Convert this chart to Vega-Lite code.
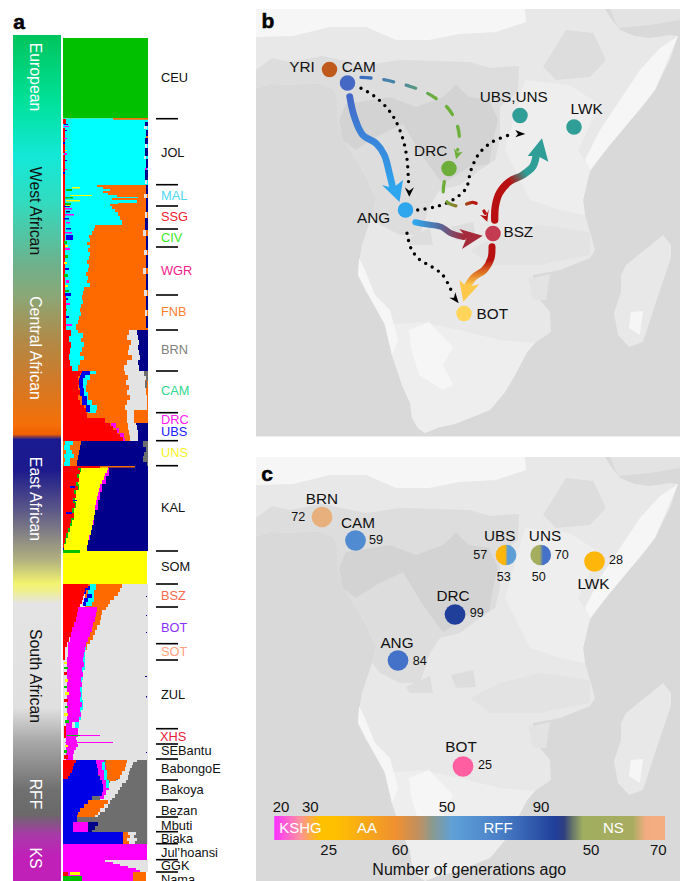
{"$schema":"https://vega.github.io/schema/vega-lite/v6.json","width":680,"height":881,"padding":0,"autosize":"none","background":"white","config":{"view":{"stroke":null},"font":"Liberation Sans","text":{"font":"Liberation Sans"}},
"datasets":{
"panels":[{"x":256,"x2":680,"y":9,"y2":436.5},{"x":256,"x2":680,"y":457,"y2":881}],
"map":[
{"g":"land","t":"land","x":256,"y":88},{"g":"land","t":"land","x":270,"y":84},{"g":"land","t":"land","x":295,"y":85},{"g":"land","t":"land","x":306,"y":83},{"g":"land","t":"land","x":320,"y":84},{"g":"land","t":"land","x":333,"y":89},{"g":"land","t":"land","x":338,"y":100},{"g":"land","t":"land","x":337,"y":115},{"g":"land","t":"land","x":340,"y":128},{"g":"land","t":"land","x":346,"y":143},{"g":"land","t":"land","x":355,"y":158},{"g":"land","t":"land","x":367,"y":178},{"g":"land","t":"land","x":376,"y":200},{"g":"land","t":"land","x":372,"y":215},{"g":"land","t":"land","x":362,"y":245},{"g":"land","t":"land","x":359,"y":262},{"g":"land","t":"land","x":358,"y":275},{"g":"land","t":"land","x":366,"y":292},{"g":"land","t":"land","x":378,"y":306},{"g":"land","t":"land","x":385,"y":325},{"g":"land","t":"land","x":392,"y":355},{"g":"land","t":"land","x":402,"y":385},{"g":"land","t":"land","x":410,"y":403},{"g":"land","t":"land","x":412,"y":418},{"g":"land","t":"land","x":418,"y":428},{"g":"land","t":"land","x":425,"y":433},{"g":"land","t":"land","x":440,"y":427},{"g":"land","t":"land","x":455,"y":424},{"g":"land","t":"land","x":470,"y":418},{"g":"land","t":"land","x":490,"y":410},{"g":"land","t":"land","x":505,"y":392},{"g":"land","t":"land","x":515,"y":375},{"g":"land","t":"land","x":527,"y":352},{"g":"land","t":"land","x":535,"y":343},{"g":"land","t":"land","x":551,"y":332},{"g":"land","t":"land","x":550,"y":312},{"g":"land","t":"land","x":540,"y":300},{"g":"land","t":"land","x":533,"y":288},{"g":"land","t":"land","x":533,"y":275},{"g":"land","t":"land","x":560,"y":270},{"g":"land","t":"land","x":590,"y":258},{"g":"land","t":"land","x":595,"y":250},{"g":"land","t":"land","x":590,"y":232},{"g":"land","t":"land","x":585,"y":215},{"g":"land","t":"land","x":583,"y":200},{"g":"land","t":"land","x":590,"y":172},{"g":"land","t":"land","x":605,"y":150},{"g":"land","t":"land","x":620,"y":130},{"g":"land","t":"land","x":640,"y":110},{"g":"land","t":"land","x":655,"y":90},{"g":"land","t":"land","x":670,"y":60},{"g":"land","t":"land","x":678,"y":36},{"g":"land","t":"land","x":670,"y":35},{"g":"land","t":"land","x":650,"y":38},{"g":"land","t":"land","x":635,"y":36},{"g":"land","t":"land","x":620,"y":30},{"g":"land","t":"land","x":612,"y":20},{"g":"land","t":"land","x":605,"y":9},{"g":"land","t":"land","x":256,"y":9},
{"g":"sahara","t":"white","x":256,"y":9},{"g":"sahara","t":"white","x":525,"y":9},{"g":"sahara","t":"white","x":526,"y":22},{"g":"sahara","t":"white","x":496,"y":32},{"g":"sahara","t":"white","x":459,"y":34},{"g":"sahara","t":"white","x":429,"y":40},{"g":"sahara","t":"white","x":396,"y":40},{"g":"sahara","t":"white","x":366,"y":27},{"g":"sahara","t":"white","x":330,"y":27},{"g":"sahara","t":"white","x":293,"y":36},{"g":"sahara","t":"white","x":256,"y":37},
{"g":"arabia","t":"mid2","x":610,"y":9},{"g":"arabia","t":"mid2","x":680,"y":9},{"g":"arabia","t":"mid2","x":680,"y":20},{"g":"arabia","t":"mid2","x":650,"y":25},{"g":"arabia","t":"mid2","x":618,"y":28},
{"g":"eastland","t":"south","x":525,"y":80},{"g":"eastland","t":"south","x":570,"y":85},{"g":"eastland","t":"south","x":600,"y":105},{"g":"eastland","t":"south","x":590,"y":125},{"g":"eastland","t":"south","x":578,"y":150},{"g":"eastland","t":"south","x":590,"y":170},{"g":"eastland","t":"south","x":583,"y":200},{"g":"eastland","t":"south","x":585,"y":215},{"g":"eastland","t":"south","x":560,"y":210},{"g":"eastland","t":"south","x":530,"y":200},{"g":"eastland","t":"south","x":515,"y":170},{"g":"eastland","t":"south","x":505,"y":150},
{"g":"forest","t":"mid","x":256,"y":70},{"g":"forest","t":"mid","x":272,"y":58},{"g":"forest","t":"mid","x":290,"y":62},{"g":"forest","t":"mid","x":322,"y":56},{"g":"forest","t":"mid","x":366,"y":65},{"g":"forest","t":"mid","x":400,"y":60},{"g":"forest","t":"mid","x":470,"y":62},{"g":"forest","t":"mid","x":490,"y":68},{"g":"forest","t":"mid","x":519,"y":66},{"g":"forest","t":"mid","x":518,"y":92},{"g":"forest","t":"mid","x":500,"y":107},{"g":"forest","t":"mid","x":500,"y":140},{"g":"forest","t":"mid","x":495,"y":160},{"g":"forest","t":"mid","x":480,"y":170},{"g":"forest","t":"mid","x":460,"y":185},{"g":"forest","t":"mid","x":440,"y":190},{"g":"forest","t":"mid","x":430,"y":205},{"g":"forest","t":"mid","x":420,"y":235},{"g":"forest","t":"mid","x":400,"y":235},{"g":"forest","t":"mid","x":380,"y":225},{"g":"forest","t":"mid","x":372,"y":215},{"g":"forest","t":"mid","x":376,"y":200},{"g":"forest","t":"mid","x":367,"y":178},{"g":"forest","t":"mid","x":355,"y":158},{"g":"forest","t":"mid","x":346,"y":143},{"g":"forest","t":"mid","x":340,"y":128},{"g":"forest","t":"mid","x":337,"y":115},{"g":"forest","t":"mid","x":338,"y":100},{"g":"forest","t":"mid","x":333,"y":89},{"g":"forest","t":"mid","x":320,"y":84},{"g":"forest","t":"mid","x":306,"y":83},{"g":"forest","t":"mid","x":295,"y":85},{"g":"forest","t":"mid","x":270,"y":84},{"g":"forest","t":"mid","x":256,"y":88},
{"g":"basin","t":"dark","x":339,"y":120},{"g":"basin","t":"dark","x":346,"y":104},{"g":"basin","t":"dark","x":390,"y":97},{"g":"basin","t":"dark","x":416,"y":107},{"g":"basin","t":"dark","x":443,"y":97},{"g":"basin","t":"dark","x":456,"y":85},{"g":"basin","t":"dark","x":469,"y":97},{"g":"basin","t":"dark","x":489,"y":100},{"g":"basin","t":"dark","x":498,"y":120},{"g":"basin","t":"dark","x":493,"y":140},{"g":"basin","t":"dark","x":489,"y":164},{"g":"basin","t":"dark","x":469,"y":167},{"g":"basin","t":"dark","x":443,"y":184},{"g":"basin","t":"dark","x":423,"y":157},{"g":"basin","t":"dark","x":403,"y":124},{"g":"basin","t":"dark","x":376,"y":137},{"g":"basin","t":"dark","x":356,"y":150},{"g":"basin","t":"dark","x":343,"y":140},
{"g":"somali","t":"white","x":678,"y":36},{"g":"somali","t":"white","x":655,"y":90},{"g":"somali","t":"white","x":635,"y":115},{"g":"somali","t":"white","x":610,"y":145},{"g":"somali","t":"white","x":590,"y":170},{"g":"somali","t":"white","x":585,"y":160},{"g":"somali","t":"white","x":600,"y":130},{"g":"somali","t":"white","x":620,"y":100},{"g":"somali","t":"white","x":640,"y":70},{"g":"somali","t":"white","x":660,"y":48},
{"g":"ethiopia","t":"mid","x":543,"y":67},{"g":"ethiopia","t":"mid","x":566,"y":30},{"g":"ethiopia","t":"mid","x":593,"y":33},{"g":"ethiopia","t":"mid","x":606,"y":60},{"g":"ethiopia","t":"mid","x":590,"y":77},{"g":"ethiopia","t":"mid","x":556,"y":80},
{"g":"southland","t":"south","x":385,"y":325},{"g":"southland","t":"south","x":392,"y":355},{"g":"southland","t":"south","x":402,"y":385},{"g":"southland","t":"south","x":410,"y":403},{"g":"southland","t":"south","x":412,"y":418},{"g":"southland","t":"south","x":418,"y":428},{"g":"southland","t":"south","x":425,"y":433},{"g":"southland","t":"south","x":440,"y":427},{"g":"southland","t":"south","x":455,"y":424},{"g":"southland","t":"south","x":470,"y":418},{"g":"southland","t":"south","x":490,"y":410},{"g":"southland","t":"south","x":505,"y":392},{"g":"southland","t":"south","x":515,"y":375},{"g":"southland","t":"south","x":527,"y":352},{"g":"southland","t":"south","x":535,"y":343},{"g":"southland","t":"south","x":500,"y":340},{"g":"southland","t":"south","x":460,"y":330},{"g":"southland","t":"south","x":420,"y":322},
{"g":"kalahari","t":"white","x":409,"y":330},{"g":"kalahari","t":"white","x":429,"y":322},{"g":"kalahari","t":"white","x":453,"y":347},{"g":"kalahari","t":"white","x":443,"y":365},{"g":"kalahari","t":"white","x":453,"y":385},{"g":"kalahari","t":"white","x":443,"y":390},{"g":"kalahari","t":"white","x":419,"y":375},{"g":"kalahari","t":"white","x":411,"y":348},
{"g":"namib","t":"white","x":359,"y":258},{"g":"namib","t":"white","x":358,"y":275},{"g":"namib","t":"white","x":370,"y":298},{"g":"namib","t":"white","x":385,"y":325},{"g":"namib","t":"white","x":392,"y":355},{"g":"namib","t":"white","x":398,"y":340},{"g":"namib","t":"white","x":390,"y":310},{"g":"namib","t":"white","x":375,"y":295},{"g":"namib","t":"white","x":365,"y":270},
{"g":"madag","t":"land","x":621,"y":275},{"g":"madag","t":"land","x":626,"y":265},{"g":"madag","t":"land","x":663,"y":235},{"g":"madag","t":"land","x":671,"y":245},{"g":"madag","t":"land","x":671,"y":258},{"g":"madag","t":"land","x":656,"y":302},{"g":"madag","t":"land","x":643,"y":342},{"g":"madag","t":"land","x":629,"y":347},{"g":"madag","t":"land","x":618,"y":335},{"g":"madag","t":"land","x":614,"y":313},{"g":"madag","t":"land","x":621,"y":292},
{"g":"madag2","t":"white","x":631,"y":312},{"g":"madag2","t":"white","x":643,"y":311},{"g":"madag2","t":"white","x":640,"y":335},{"g":"madag2","t":"white","x":629,"y":328},
{"g":"p1","t":"mid","x":451,"y":227},{"g":"p1","t":"mid","x":473,"y":222},{"g":"p1","t":"mid","x":476,"y":239},{"g":"p1","t":"mid","x":456,"y":240},
{"g":"p2","t":"mid","x":406,"y":239},{"g":"p2","t":"mid","x":430,"y":228},{"g":"p2","t":"mid","x":433,"y":245},{"g":"p2","t":"mid","x":410,"y":245},
{"g":"p3","t":"mid2","x":528,"y":279},{"g":"p3","t":"mid2","x":550,"y":274},{"g":"p3","t":"mid2","x":546,"y":300},{"g":"p3","t":"mid2","x":533,"y":300},
{"g":"p4","t":"mid2","x":470,"y":250},{"g":"p4","t":"mid2","x":500,"y":235},{"g":"p4","t":"mid2","x":540,"y":225},{"g":"p4","t":"mid2","x":590,"y":232},{"g":"p4","t":"mid2","x":590,"y":255},{"g":"p4","t":"mid2","x":540,"y":265},{"g":"p4","t":"mid2","x":490,"y":265}
],
"bars":[
{"c":"green","x":63,"x2":148,"y":38,"y2":118.5},{"c":"cyan","x":63,"x2":148,"y":118.5,"y2":185},{"c":"orange","x":63,"x2":148,"y":185,"y2":441},{"c":"navy","x":63,"x2":148,"y":441,"y2":551},{"c":"yellow","x":63,"x2":147,"y":551,"y2":584},{"c":"lgray","x":63,"x2":148,"y":584,"y2":760},{"c":"dgray","x":63,"x2":148,"y":760,"y2":844},{"c":"magenta","x":63,"x2":147,"y":844,"y2":860},{"c":"lgray","x":63,"x2":148,"y":860,"y2":872},{"c":"magenta","x":63,"x2":133,"y":872,"y2":881},
{"c":"orange","x":113,"x2":148,"y":118,"y2":119.5},{"c":"orange","x":100,"x2":135,"y":466,"y2":467.5},{"c":"red","x":63,"x2":100,"y":466,"y2":468},{"c":"orange","x":133,"x2":146,"y":872,"y2":881},{"c":"red","x":63,"x2":68,"y":872,"y2":881},{"c":"green","x":63,"x2":82,"y":876,"y2":881},{"c":"yellow","x":70,"x2":80,"y":872,"y2":875},{"c":"green","x":63,"x2":80,"y":550,"y2":553},{"c":"blue","x":63,"x2":77,"y":817,"y2":822},{"c":"blue","x":63,"x2":73,"y":822,"y2":832},{"c":"magenta","x":73,"x2":88,"y":822,"y2":832},{"c":"blue","x":63,"x2":123,"y":832,"y2":844},{"c":"magenta","x":65,"x2":100,"y":735,"y2":736},{"c":"green","x":67,"x2":80,"y":735,"y2":736},{"c":"magenta","x":65,"x2":113,"y":742,"y2":743},{"c":"lgray","x":147,"x2":148,"y":584,"y2":844},
{"c":"yellow","x":72,"x2":80,"y":187,"y2":188.5},{"c":"green","x":66,"x2":72,"y":189,"y2":191},{"c":"yellow","x":70,"x2":92,"y":195,"y2":196},{"c":"green","x":65,"x2":73,"y":197,"y2":198.5},{"c":"yellow","x":66,"x2":80,"y":200,"y2":201.5},{"c":"green","x":65,"x2":71,"y":203,"y2":205},{"c":"yellow","x":66,"x2":70,"y":205,"y2":206},
{"c":"red","x":63,"x2":66,"y":119,"y2":124},{"c":"blue","x":64,"x2":68,"y":124,"y2":125},{"c":"magenta","x":64,"x2":69,"y":126,"y2":127},{"c":"red","x":63,"x2":65,"y":128,"y2":134},{"c":"blue","x":65,"x2":67,"y":130,"y2":131},{"c":"red","x":63,"x2":65,"y":134,"y2":142},{"c":"magenta","x":64,"x2":67,"y":138,"y2":139},{"c":"blue","x":63,"x2":65,"y":142,"y2":144},{"c":"red","x":63,"x2":65,"y":144,"y2":153},{"c":"yellow","x":65,"x2":67,"y":150,"y2":151},{"c":"magenta","x":64,"x2":67,"y":153,"y2":155},{"c":"red","x":63,"x2":65,"y":155,"y2":164},{"c":"blue","x":65,"x2":67,"y":160,"y2":161},{"c":"red","x":63,"x2":65,"y":164,"y2":172},{"c":"magenta","x":65,"x2":67,"y":169,"y2":170},{"c":"blue","x":63,"x2":65,"y":172,"y2":174},{"c":"red","x":63,"x2":65,"y":174,"y2":200},{"c":"red","x":63,"x2":65,"y":200,"y2":296},{"c":"blue","x":64,"x2":70,"y":206,"y2":207},{"c":"magenta","x":65,"x2":72,"y":208,"y2":209.5},{"c":"navy","x":66,"x2":70,"y":211,"y2":212.5},{"c":"magenta","x":65,"x2":74,"y":214,"y2":215.5},{"c":"blue","x":64,"x2":69,"y":218,"y2":219.5},{"c":"magenta","x":66,"x2":70,"y":222,"y2":223.5},{"c":"blue","x":66,"x2":71,"y":228,"y2":229.5},{"c":"magenta","x":65,"x2":72,"y":232,"y2":233.5},{"c":"blue","x":66,"x2":73,"y":235,"y2":240},{"c":"green","x":64,"x2":67,"y":241,"y2":244},{"c":"yellow","x":65,"x2":68,"y":245,"y2":247},{"c":"magenta","x":65,"x2":70,"y":248,"y2":250},{"c":"green","x":65,"x2":68,"y":255,"y2":258},{"c":"yellow","x":64,"x2":67,"y":262,"y2":264},{"c":"blue","x":65,"x2":69,"y":268,"y2":270},{"c":"green","x":64,"x2":68,"y":274,"y2":277},{"c":"magenta","x":66,"x2":69,"y":280,"y2":283},{"c":"yellow","x":65,"x2":68,"y":285,"y2":287},{"c":"green","x":65,"x2":69,"y":290,"y2":292},{"c":"blue","x":65,"x2":71,"y":293,"y2":296},{"c":"blue","x":65,"x2":68,"y":298,"y2":300},{"c":"magenta","x":65,"x2":70,"y":303,"y2":305},{"c":"green","x":64,"x2":67,"y":309,"y2":311},{"c":"red","x":63,"x2":66,"y":296,"y2":330},{"c":"blue","x":66,"x2":69,"y":316,"y2":318},{"c":"magenta","x":66,"x2":72,"y":324,"y2":326},
{"c":"navy","x":145,"x2":148,"y":122,"y2":126},{"c":"lgray","x":144,"x2":147,"y":126,"y2":129},{"c":"navy","x":146,"x2":148,"y":130,"y2":136},{"c":"orange","x":146,"x2":148,"y":136,"y2":138},{"c":"navy","x":145,"x2":148,"y":138,"y2":144},{"c":"lgray","x":145,"x2":147,"y":144,"y2":148},{"c":"navy","x":145,"x2":148,"y":148,"y2":156},{"c":"lgray","x":144,"x2":146,"y":156,"y2":159},{"c":"navy","x":146,"x2":148,"y":159,"y2":168},{"c":"magenta","x":145,"x2":147,"y":168,"y2":170},{"c":"navy","x":145,"x2":148,"y":170,"y2":180},{"c":"lgray","x":145,"x2":147,"y":180,"y2":184},{"c":"navy","x":146,"x2":148,"y":185,"y2":194},{"c":"lgray","x":144,"x2":147,"y":194,"y2":198},{"c":"navy","x":146,"x2":148,"y":198,"y2":212},{"c":"lgray","x":145,"x2":147,"y":212,"y2":218},{"c":"navy","x":145,"x2":148,"y":218,"y2":230},{"c":"lgray","x":143,"x2":146,"y":230,"y2":236},{"c":"navy","x":146,"x2":148,"y":236,"y2":250},{"c":"lgray","x":144,"x2":147,"y":250,"y2":255},{"c":"navy","x":146,"x2":148,"y":255,"y2":268},{"c":"lgray","x":143,"x2":146,"y":268,"y2":274},{"c":"navy","x":146,"x2":148,"y":274,"y2":290},{"c":"lgray","x":144,"x2":147,"y":290,"y2":296},{"c":"navy","x":146,"x2":148,"y":296,"y2":310},{"c":"lgray","x":145,"x2":147,"y":310,"y2":316},{"c":"navy","x":146,"x2":148,"y":316,"y2":328},
{"c":"navy","x":146,"x2":147,"y":596,"y2":597},{"c":"navy","x":146,"x2":147,"y":615,"y2":616},{"c":"navy","x":146,"x2":147,"y":632,"y2":633},{"c":"navy","x":146,"x2":147,"y":696,"y2":697.5},{"c":"navy","x":146,"x2":147,"y":752,"y2":753},{"c":"navy","x":145,"x2":147,"y":676,"y2":677},
{"c":"yellow","x":64,"x2":67,"y":662,"y2":664},{"c":"green","x":64,"x2":68,"y":667,"y2":669},{"c":"red","x":64,"x2":67,"y":672,"y2":675},{"c":"yellow","x":65,"x2":68,"y":679,"y2":682},{"c":"green","x":64,"x2":67,"y":686,"y2":688},{"c":"yellow","x":65,"x2":69,"y":692,"y2":695},{"c":"red","x":64,"x2":68,"y":699,"y2":702},{"c":"green","x":65,"x2":68,"y":706,"y2":708},{"c":"yellow","x":64,"x2":68,"y":713,"y2":716},{"c":"green","x":65,"x2":69,"y":720,"y2":723},{"c":"red","x":64,"x2":66,"y":726,"y2":738},{"c":"yellow","x":65,"x2":68,"y":745,"y2":747},{"c":"green","x":64,"x2":67,"y":750,"y2":753},{"c":"red","x":64,"x2":68,"y":755,"y2":759},
{"c":"blue","x":66,"x2":72,"y":512,"y2":514},{"c":"blue","x":70,"x2":75,"y":486,"y2":488},{"c":"blue","x":73,"x2":77,"y":500,"y2":501}
],
"st":[
{"g":"a1","c":"cyan","y":185,"x":63,"x2":95},{"g":"a1","c":"cyan","y":187,"x":63,"x2":97},{"g":"a1","c":"cyan","y":189,"x":63,"x2":103},{"g":"a1","c":"cyan","y":191,"x":63,"x2":110},{"g":"a1","c":"cyan","y":193,"x":63,"x2":103},{"g":"a1","c":"cyan","y":195,"x":63,"x2":108},{"g":"a1","c":"cyan","y":197,"x":63,"x2":117},{"g":"a1","c":"cyan","y":198,"x":63,"x2":138},{"g":"a1","c":"cyan","y":200,"x":63,"x2":112},{"g":"a1","c":"cyan","y":203,"x":63,"x2":137},{"g":"a1","c":"cyan","y":204,"x":63,"x2":118},{"g":"a1","c":"cyan","y":206,"x":63,"x2":110},{"g":"a1","c":"cyan","y":209,"x":63,"x2":112},{"g":"a1","c":"cyan","y":212,"x":63,"x2":115},{"g":"a1","c":"cyan","y":216,"x":63,"x2":118},{"g":"a1","c":"cyan","y":220,"x":63,"x2":120},{"g":"a1","c":"cyan","y":225,"x":63,"x2":122},{"g":"a1","c":"cyan","y":228,"x":63,"x2":95},{"g":"a1","c":"cyan","y":231,"x":63,"x2":94},{"g":"a1","c":"cyan","y":235,"x":63,"x2":92},{"g":"a1","c":"cyan","y":238,"x":63,"x2":89},{"g":"a1","c":"cyan","y":242,"x":63,"x2":90},{"g":"a1","c":"cyan","y":245,"x":63,"x2":87},{"g":"a1","c":"cyan","y":248,"x":63,"x2":90},{"g":"a1","c":"cyan","y":252,"x":63,"x2":88},{"g":"a1","c":"cyan","y":256,"x":63,"x2":90},{"g":"a1","c":"cyan","y":260,"x":63,"x2":89},{"g":"a1","c":"cyan","y":264,"x":63,"x2":87},{"g":"a1","c":"cyan","y":268,"x":63,"x2":89},{"g":"a1","c":"cyan","y":272,"x":63,"x2":88},{"g":"a1","c":"cyan","y":276,"x":63,"x2":86},{"g":"a1","c":"cyan","y":280,"x":63,"x2":88},{"g":"a1","c":"cyan","y":283,"x":63,"x2":87},{"g":"a1","c":"cyan","y":287,"x":63,"x2":90},{"g":"a1","c":"cyan","y":291,"x":63,"x2":84},{"g":"a1","c":"cyan","y":295,"x":63,"x2":83},{"g":"a1","c":"cyan","y":300,"x":63,"x2":82},{"g":"a1","c":"cyan","y":304,"x":63,"x2":83},{"g":"a1","c":"cyan","y":308,"x":63,"x2":81},{"g":"a1","c":"cyan","y":312,"x":63,"x2":80},{"g":"a1","c":"cyan","y":316,"x":63,"x2":81},{"g":"a1","c":"cyan","y":320,"x":63,"x2":79},{"g":"a1","c":"cyan","y":324,"x":63,"x2":78},{"g":"a1","c":"cyan","y":327,"x":63,"x2":76},{"g":"a1","c":"cyan","y":330,"x":63,"x2":76},{"g":"a1","c":"cyan","y":333,"x":63,"x2":78},{"g":"a1","c":"cyan","y":338,"x":63,"x2":83},{"g":"a1","c":"cyan","y":342,"x":63,"x2":81},{"g":"a1","c":"cyan","y":347,"x":63,"x2":84},{"g":"a1","c":"cyan","y":352,"x":63,"x2":82},{"g":"a1","c":"cyan","y":356,"x":63,"x2":80},{"g":"a1","c":"cyan","y":360,"x":63,"x2":84},{"g":"a1","c":"cyan","y":365,"x":63,"x2":80},{"g":"a1","c":"cyan","y":371,"x":63,"x2":78},
{"g":"a2","c":"red","y":330,"x":63,"x2":70},{"g":"a2","c":"red","y":336,"x":63,"x2":71},{"g":"a2","c":"red","y":342,"x":63,"x2":69},{"g":"a2","c":"red","y":348,"x":63,"x2":71},{"g":"a2","c":"red","y":354,"x":63,"x2":70},{"g":"a2","c":"red","y":360,"x":63,"x2":69},{"g":"a2","c":"red","y":366,"x":63,"x2":70},{"g":"a2","c":"red","y":371,"x":63,"x2":72},
{"g":"a3","c":"lgray","y":330,"x":128,"x2":138},{"g":"a3","c":"lgray","y":335,"x":129,"x2":137},{"g":"a3","c":"lgray","y":340,"x":127,"x2":138},{"g":"a3","c":"lgray","y":345,"x":131,"x2":139},{"g":"a3","c":"lgray","y":350,"x":129,"x2":138},{"g":"a3","c":"lgray","y":355,"x":128,"x2":139},{"g":"a3","c":"lgray","y":360,"x":132,"x2":140},{"g":"a3","c":"lgray","y":365,"x":127,"x2":138},{"g":"a3","c":"lgray","y":371,"x":124,"x2":140},
{"g":"a4","c":"navy","y":330,"x":138,"x2":148},{"g":"a4","c":"navy","y":335,"x":137,"x2":148},{"g":"a4","c":"navy","y":340,"x":138,"x2":148},{"g":"a4","c":"navy","y":345,"x":139,"x2":148},{"g":"a4","c":"navy","y":350,"x":138,"x2":148},{"g":"a4","c":"navy","y":355,"x":139,"x2":148},{"g":"a4","c":"navy","y":360,"x":140,"x2":148},{"g":"a4","c":"navy","y":365,"x":138,"x2":148},{"g":"a4","c":"navy","y":371,"x":139,"x2":148},
{"g":"b1","c":"cyan","y":371,"x":84,"x2":100},{"g":"b1","c":"cyan","y":374,"x":84,"x2":96},{"g":"b1","c":"cyan","y":380,"x":82,"x2":90},{"g":"b1","c":"cyan","y":385,"x":81,"x2":87},{"g":"b1","c":"cyan","y":392,"x":81,"x2":86},{"g":"b1","c":"cyan","y":400,"x":82,"x2":88},{"g":"b1","c":"cyan","y":405,"x":84,"x2":92},{"g":"b1","c":"cyan","y":410,"x":86,"x2":97},{"g":"b1","c":"cyan","y":413,"x":88,"x2":96},
{"g":"b2","c":"blue","y":371,"x":82,"x2":92},{"g":"b2","c":"blue","y":375,"x":81,"x2":90},{"g":"b2","c":"blue","y":378,"x":80,"x2":85},{"g":"b2","c":"blue","y":383,"x":79,"x2":83},{"g":"b2","c":"blue","y":388,"x":79,"x2":83},{"g":"b2","c":"blue","y":396,"x":80,"x2":84},{"g":"b2","c":"blue","y":405,"x":82,"x2":87},{"g":"b2","c":"blue","y":412,"x":86,"x2":90},
{"g":"b3","c":"magenta","y":423,"x":105,"x2":110},{"g":"b3","c":"magenta","y":428,"x":111,"x2":116},{"g":"b3","c":"magenta","y":433,"x":116,"x2":119},{"g":"b3","c":"magenta","y":438,"x":120,"x2":124},{"g":"b3","c":"magenta","y":441,"x":122,"x2":125},
{"g":"b4","c":"red","y":371,"x":63,"x2":80},{"g":"b4","c":"red","y":373,"x":63,"x2":82},{"g":"b4","c":"red","y":376,"x":63,"x2":80},{"g":"b4","c":"red","y":380,"x":63,"x2":78},{"g":"b4","c":"red","y":385,"x":63,"x2":79},{"g":"b4","c":"red","y":390,"x":63,"x2":78},{"g":"b4","c":"red","y":395,"x":63,"x2":80},{"g":"b4","c":"red","y":400,"x":63,"x2":78},{"g":"b4","c":"red","y":405,"x":63,"x2":80},{"g":"b4","c":"red","y":408,"x":63,"x2":84},{"g":"b4","c":"red","y":411,"x":63,"x2":86},{"g":"b4","c":"red","y":413,"x":63,"x2":86},{"g":"b4","c":"red","y":418,"x":63,"x2":87},{"g":"b4","c":"red","y":423,"x":63,"x2":105},{"g":"b4","c":"red","y":426,"x":63,"x2":110},{"g":"b4","c":"red","y":430,"x":63,"x2":113},{"g":"b4","c":"red","y":434,"x":63,"x2":117},{"g":"b4","c":"red","y":437,"x":63,"x2":120},{"g":"b4","c":"red","y":441,"x":63,"x2":123},
{"g":"b5","c":"lgray","y":371,"x":123,"x2":143},{"g":"b5","c":"lgray","y":375,"x":125,"x2":144},{"g":"b5","c":"lgray","y":380,"x":128,"x2":146},{"g":"b5","c":"lgray","y":385,"x":126,"x2":145},{"g":"b5","c":"lgray","y":390,"x":129,"x2":146},{"g":"b5","c":"lgray","y":395,"x":127,"x2":146},{"g":"b5","c":"lgray","y":400,"x":130,"x2":147},{"g":"b5","c":"lgray","y":405,"x":127,"x2":147},{"g":"b5","c":"lgray","y":410,"x":125,"x2":147},{"g":"b5","c":"lgray","y":423,"x":127,"x2":134},{"g":"b5","c":"lgray","y":425,"x":128,"x2":136},{"g":"b5","c":"lgray","y":430,"x":128,"x2":137},{"g":"b5","c":"lgray","y":435,"x":129,"x2":138},{"g":"b5","c":"lgray","y":441,"x":130,"x2":138},
{"g":"b6","c":"dgray","y":371,"x":143,"x2":148},{"g":"b6","c":"dgray","y":376,"x":144,"x2":148},{"g":"b6","c":"dgray","y":381,"x":146,"x2":148},{"g":"b6","c":"dgray","y":388,"x":145,"x2":147},{"g":"b6","c":"navy","y":392,"x":144,"x2":147},
{"g":"b7","c":"navy","y":423,"x":134,"x2":148},{"g":"b7","c":"navy","y":425,"x":136,"x2":148},{"g":"b7","c":"navy","y":430,"x":137,"x2":148},{"g":"b7","c":"navy","y":441,"x":138,"x2":148},
{"g":"c1","c":"orange","y":441,"x":63,"x2":82},{"g":"c1","c":"orange","y":445,"x":63,"x2":81},{"g":"c1","c":"orange","y":450,"x":63,"x2":80},{"g":"c1","c":"orange","y":455,"x":63,"x2":79},{"g":"c1","c":"orange","y":460,"x":63,"x2":78},{"g":"c1","c":"orange","y":466,"x":63,"x2":77},
{"g":"c2","c":"cyan","y":441,"x":64,"x2":71},{"g":"c2","c":"cyan","y":445,"x":65,"x2":73},{"g":"c2","c":"cyan","y":450,"x":64,"x2":70},{"g":"c2","c":"cyan","y":454,"x":66,"x2":72},{"g":"c2","c":"cyan","y":458,"x":64,"x2":74},{"g":"c2","c":"cyan","y":462,"x":65,"x2":70},{"g":"c2","c":"cyan","y":466,"x":64,"x2":70},
{"g":"c3","c":"dgray","y":441,"x":144,"x2":148},{"g":"c3","c":"dgray","y":447,"x":143,"x2":148},{"g":"c3","c":"dgray","y":452,"x":146,"x2":148},{"g":"c3","c":"dgray","y":456,"x":144,"x2":148},{"g":"c3","c":"dgray","y":462,"x":143,"x2":148},{"g":"c3","c":"dgray","y":466,"x":147,"x2":148},
{"g":"d1","c":"magenta","y":468,"x":108,"x2":113},{"g":"d1","c":"magenta","y":476,"x":105,"x2":109},{"g":"d1","c":"magenta","y":484,"x":102,"x2":106},{"g":"d1","c":"magenta","y":492,"x":99,"x2":102},{"g":"d1","c":"magenta","y":500,"x":97,"x2":100},{"g":"d1","c":"magenta","y":510,"x":95,"x2":98},{"g":"d1","c":"magenta","y":525,"x":92,"x2":94},{"g":"d1","c":"magenta","y":540,"x":88,"x2":90},
{"g":"d2","c":"yellow","y":467,"x":64,"x2":109},{"g":"d2","c":"yellow","y":470,"x":64,"x2":108},{"g":"d2","c":"yellow","y":473,"x":64,"x2":107},{"g":"d2","c":"yellow","y":476,"x":64,"x2":105},{"g":"d2","c":"yellow","y":480,"x":64,"x2":104},{"g":"d2","c":"yellow","y":484,"x":64,"x2":102},{"g":"d2","c":"yellow","y":488,"x":64,"x2":100},{"g":"d2","c":"yellow","y":492,"x":64,"x2":99},{"g":"d2","c":"yellow","y":496,"x":64,"x2":98},{"g":"d2","c":"yellow","y":500,"x":64,"x2":97},{"g":"d2","c":"yellow","y":505,"x":64,"x2":96},{"g":"d2","c":"yellow","y":510,"x":64,"x2":95},{"g":"d2","c":"yellow","y":515,"x":64,"x2":95},{"g":"d2","c":"yellow","y":520,"x":64,"x2":94},{"g":"d2","c":"yellow","y":525,"x":64,"x2":93},{"g":"d2","c":"yellow","y":530,"x":64,"x2":92},{"g":"d2","c":"yellow","y":535,"x":64,"x2":91},{"g":"d2","c":"yellow","y":540,"x":64,"x2":89},{"g":"d2","c":"yellow","y":545,"x":64,"x2":88},{"g":"d2","c":"yellow","y":551,"x":64,"x2":87},
{"g":"d3","c":"green","y":466,"x":77,"x2":82},{"g":"d3","c":"green","y":472,"x":77,"x2":81},{"g":"d3","c":"green","y":478,"x":75,"x2":79},{"g":"d3","c":"green","y":484,"x":75,"x2":78},{"g":"d3","c":"green","y":490,"x":75,"x2":79},{"g":"d3","c":"green","y":496,"x":73,"x2":76},{"g":"d3","c":"green","y":502,"x":72,"x2":75},{"g":"d3","c":"green","y":508,"x":73,"x2":76},{"g":"d3","c":"green","y":514,"x":70,"x2":74},{"g":"d3","c":"green","y":520,"x":71,"x2":74},{"g":"d3","c":"green","y":526,"x":68,"x2":72},{"g":"d3","c":"green","y":532,"x":66,"x2":70},{"g":"d3","c":"green","y":538,"x":65,"x2":68},{"g":"d3","c":"green","y":544,"x":64,"x2":66},
{"g":"d4","c":"red","y":467,"x":63,"x2":80},{"g":"d4","c":"red","y":470,"x":63,"x2":78},{"g":"d4","c":"red","y":474,"x":63,"x2":80},{"g":"d4","c":"red","y":478,"x":63,"x2":77},{"g":"d4","c":"red","y":482,"x":63,"x2":79},{"g":"d4","c":"red","y":486,"x":63,"x2":76},{"g":"d4","c":"red","y":490,"x":63,"x2":78},{"g":"d4","c":"red","y":494,"x":63,"x2":74},{"g":"d4","c":"red","y":498,"x":63,"x2":76},{"g":"d4","c":"red","y":503,"x":63,"x2":73},{"g":"d4","c":"red","y":508,"x":63,"x2":75},{"g":"d4","c":"red","y":513,"x":63,"x2":72},{"g":"d4","c":"red","y":518,"x":63,"x2":74},{"g":"d4","c":"red","y":523,"x":63,"x2":71},{"g":"d4","c":"red","y":528,"x":63,"x2":70},{"g":"d4","c":"red","y":533,"x":63,"x2":68},{"g":"d4","c":"red","y":538,"x":63,"x2":66},{"g":"d4","c":"red","y":543,"x":63,"x2":65},{"g":"d4","c":"red","y":548,"x":63,"x2":64},
{"g":"e0","c":"orange","y":584,"x":85,"x2":123},{"g":"e0","c":"orange","y":588,"x":85,"x2":122},{"g":"e0","c":"orange","y":592,"x":85,"x2":120},{"g":"e0","c":"orange","y":596,"x":85,"x2":118},{"g":"e0","c":"orange","y":600,"x":85,"x2":114},{"g":"e0","c":"orange","y":604,"x":85,"x2":110},{"g":"e0","c":"orange","y":607,"x":85,"x2":108},{"g":"e0","c":"orange","y":610,"x":85,"x2":106},{"g":"e0","c":"orange","y":615,"x":85,"x2":102},{"g":"e0","c":"orange","y":620,"x":85,"x2":101},{"g":"e0","c":"orange","y":625,"x":85,"x2":100},{"g":"e0","c":"orange","y":630,"x":85,"x2":97},{"g":"e0","c":"orange","y":635,"x":85,"x2":95},{"g":"e0","c":"orange","y":640,"x":85,"x2":93},{"g":"e0","c":"orange","y":644,"x":85,"x2":90},{"g":"e0","c":"orange","y":650,"x":85,"x2":87},
{"g":"e1","c":"cyan","y":584,"x":94,"x2":100},{"g":"e1","c":"cyan","y":590,"x":90,"x2":96},{"g":"e1","c":"cyan","y":596,"x":88,"x2":94},{"g":"e1","c":"cyan","y":602,"x":88,"x2":94},{"g":"e1","c":"cyan","y":606,"x":86,"x2":92},
{"g":"e2","c":"blue","y":586,"x":88,"x2":94},{"g":"e2","c":"blue","y":590,"x":85,"x2":90},{"g":"e2","c":"blue","y":594,"x":82,"x2":86},{"g":"e2","c":"blue","y":598,"x":87,"x2":92},{"g":"e2","c":"blue","y":602,"x":84,"x2":88},{"g":"e2","c":"blue","y":606,"x":83,"x2":86},
{"g":"e3","c":"cyan","y":640,"x":84,"x2":89},{"g":"e3","c":"cyan","y":650,"x":81,"x2":86},{"g":"e3","c":"cyan","y":660,"x":80,"x2":85},{"g":"e3","c":"cyan","y":670,"x":80,"x2":85},{"g":"e3","c":"cyan","y":680,"x":78,"x2":83},{"g":"e3","c":"cyan","y":690,"x":77,"x2":82},{"g":"e3","c":"cyan","y":700,"x":77,"x2":82},{"g":"e3","c":"cyan","y":710,"x":77,"x2":83},{"g":"e3","c":"cyan","y":720,"x":76,"x2":81},{"g":"e3","c":"cyan","y":728,"x":75,"x2":79},
{"g":"e4","c":"magenta","y":607,"x":78,"x2":98},{"g":"e4","c":"magenta","y":612,"x":76,"x2":97},{"g":"e4","c":"magenta","y":617,"x":76,"x2":96},{"g":"e4","c":"magenta","y":622,"x":75,"x2":95},{"g":"e4","c":"magenta","y":627,"x":74,"x2":93},{"g":"e4","c":"magenta","y":632,"x":72,"x2":92},{"g":"e4","c":"magenta","y":637,"x":71,"x2":90},{"g":"e4","c":"magenta","y":642,"x":70,"x2":88},{"g":"e4","c":"magenta","y":647,"x":68,"x2":86},{"g":"e4","c":"magenta","y":652,"x":68,"x2":85},{"g":"e4","c":"magenta","y":657,"x":68,"x2":84},{"g":"e4","c":"magenta","y":662,"x":67,"x2":83},{"g":"e4","c":"magenta","y":667,"x":67,"x2":84},{"g":"e4","c":"magenta","y":672,"x":67,"x2":82},{"g":"e4","c":"magenta","y":677,"x":67,"x2":83},{"g":"e4","c":"magenta","y":682,"x":67,"x2":81},{"g":"e4","c":"magenta","y":687,"x":67,"x2":82},{"g":"e4","c":"magenta","y":692,"x":67,"x2":80},{"g":"e4","c":"magenta","y":697,"x":67,"x2":81},{"g":"e4","c":"magenta","y":702,"x":67,"x2":80},{"g":"e4","c":"magenta","y":707,"x":67,"x2":82},{"g":"e4","c":"magenta","y":712,"x":67,"x2":80},{"g":"e4","c":"magenta","y":717,"x":67,"x2":81},{"g":"e4","c":"magenta","y":722,"x":67,"x2":79},{"g":"e4","c":"magenta","y":728,"x":66,"x2":72},{"g":"e4","c":"magenta","y":731,"x":66,"x2":78},{"g":"e4","c":"magenta","y":737,"x":66,"x2":78},{"g":"e4","c":"magenta","y":740,"x":66,"x2":76},{"g":"e4","c":"magenta","y":744,"x":66,"x2":77},{"g":"e4","c":"magenta","y":747,"x":66,"x2":78},{"g":"e4","c":"magenta","y":750,"x":66,"x2":76},{"g":"e4","c":"magenta","y":754,"x":66,"x2":74},{"g":"e4","c":"magenta","y":760,"x":66,"x2":73},
{"g":"e5","c":"red","y":584,"x":63,"x2":90},{"g":"e5","c":"red","y":588,"x":63,"x2":88},{"g":"e5","c":"red","y":592,"x":63,"x2":85},{"g":"e5","c":"red","y":596,"x":63,"x2":84},{"g":"e5","c":"red","y":600,"x":63,"x2":83},{"g":"e5","c":"red","y":604,"x":63,"x2":82},{"g":"e5","c":"red","y":607,"x":63,"x2":80},{"g":"e5","c":"red","y":612,"x":63,"x2":78},{"g":"e5","c":"red","y":617,"x":63,"x2":77},{"g":"e5","c":"red","y":622,"x":63,"x2":76},{"g":"e5","c":"red","y":627,"x":63,"x2":74},{"g":"e5","c":"red","y":632,"x":63,"x2":72},{"g":"e5","c":"red","y":637,"x":63,"x2":71},{"g":"e5","c":"red","y":642,"x":63,"x2":69},{"g":"e5","c":"red","y":647,"x":63,"x2":67},{"g":"e5","c":"red","y":652,"x":63,"x2":65},{"g":"e5","c":"red","y":660,"x":63,"x2":65},
{"g":"f1","c":"lgray","y":760,"x":120,"x2":147},{"g":"f1","c":"lgray","y":762,"x":120,"x2":137},{"g":"f1","c":"lgray","y":765,"x":120,"x2":133},{"g":"f1","c":"lgray","y":768,"x":120,"x2":132},{"g":"f1","c":"lgray","y":771,"x":120,"x2":130},{"g":"f1","c":"lgray","y":775,"x":120,"x2":129},{"g":"f1","c":"lgray","y":780,"x":118,"x2":128},{"g":"f1","c":"lgray","y":783,"x":110,"x2":126},{"g":"f1","c":"lgray","y":787,"x":108,"x2":122},{"g":"f1","c":"lgray","y":790,"x":106,"x2":120},{"g":"f1","c":"lgray","y":794,"x":105,"x2":118},{"g":"f1","c":"lgray","y":798,"x":104,"x2":115},{"g":"f1","c":"lgray","y":800,"x":100,"x2":112},{"g":"f1","c":"lgray","y":804,"x":95,"x2":110},{"g":"f1","c":"lgray","y":808,"x":94,"x2":108},{"g":"f1","c":"lgray","y":812,"x":90,"x2":105},{"g":"f1","c":"lgray","y":815,"x":88,"x2":100},{"g":"f1","c":"lgray","y":817,"x":88,"x2":98},
{"g":"f2","c":"orange","y":760,"x":107,"x2":127},{"g":"f2","c":"orange","y":763,"x":106,"x2":127},{"g":"f2","c":"orange","y":767,"x":104,"x2":126},{"g":"f2","c":"orange","y":771,"x":104,"x2":125},{"g":"f2","c":"orange","y":775,"x":105,"x2":122},{"g":"f2","c":"orange","y":779,"x":105,"x2":120},{"g":"f2","c":"orange","y":781,"x":108,"x2":116},
{"g":"f3","c":"orange","y":800,"x":85,"x2":110},{"g":"f3","c":"orange","y":804,"x":85,"x2":108},{"g":"f3","c":"orange","y":808,"x":84,"x2":104},{"g":"f3","c":"orange","y":812,"x":80,"x2":100},{"g":"f3","c":"orange","y":815,"x":78,"x2":98},{"g":"f3","c":"orange","y":817,"x":77,"x2":95},
{"g":"f4","c":"magenta","y":760,"x":96,"x2":106},{"g":"f4","c":"magenta","y":765,"x":96,"x2":104},{"g":"f4","c":"magenta","y":770,"x":97,"x2":106},{"g":"f4","c":"magenta","y":775,"x":97,"x2":105},{"g":"f4","c":"magenta","y":780,"x":100,"x2":107},{"g":"f4","c":"magenta","y":785,"x":102,"x2":108},{"g":"f4","c":"magenta","y":790,"x":103,"x2":109},{"g":"f4","c":"magenta","y":795,"x":102,"x2":106},{"g":"f4","c":"magenta","y":799,"x":100,"x2":104},
{"g":"f5","c":"cyan","y":762,"x":100,"x2":104},{"g":"f5","c":"cyan","y":770,"x":102,"x2":105},{"g":"f5","c":"cyan","y":780,"x":104,"x2":107},{"g":"f5","c":"cyan","y":788,"x":106,"x2":109},
{"g":"f6","c":"blue","y":760,"x":70,"x2":97},{"g":"f6","c":"blue","y":764,"x":72,"x2":96},{"g":"f6","c":"blue","y":768,"x":73,"x2":97},{"g":"f6","c":"blue","y":772,"x":71,"x2":98},{"g":"f6","c":"blue","y":776,"x":70,"x2":98},{"g":"f6","c":"blue","y":780,"x":63,"x2":100},{"g":"f6","c":"blue","y":784,"x":63,"x2":102},{"g":"f6","c":"blue","y":788,"x":63,"x2":103},{"g":"f6","c":"blue","y":792,"x":63,"x2":103},{"g":"f6","c":"blue","y":796,"x":63,"x2":102},{"g":"f6","c":"blue","y":800,"x":63,"x2":92},{"g":"f6","c":"blue","y":804,"x":63,"x2":88},{"g":"f6","c":"blue","y":808,"x":63,"x2":84},{"g":"f6","c":"blue","y":812,"x":63,"x2":80},{"g":"f6","c":"blue","y":815,"x":63,"x2":78},{"g":"f6","c":"blue","y":817,"x":63,"x2":77},
{"g":"f7","c":"red","y":760,"x":63,"x2":75},{"g":"f7","c":"red","y":763,"x":63,"x2":76},{"g":"f7","c":"red","y":766,"x":63,"x2":74},{"g":"f7","c":"red","y":770,"x":63,"x2":73},{"g":"f7","c":"red","y":773,"x":63,"x2":72},{"g":"f7","c":"red","y":776,"x":63,"x2":70},{"g":"f7","c":"red","y":779,"x":63,"x2":68},{"g":"f7","c":"red","y":781,"x":63,"x2":63},
{"g":"f8","c":"navy","y":822,"x":88,"x2":100},{"g":"f8","c":"navy","y":826,"x":88,"x2":98},{"g":"f8","c":"navy","y":830,"x":88,"x2":95},{"g":"f8","c":"navy","y":832,"x":88,"x2":92},
{"g":"f9","c":"orange","y":832,"x":123,"x2":130},{"g":"f9","c":"orange","y":835,"x":123,"x2":128},{"g":"f9","c":"orange","y":838,"x":123,"x2":130},{"g":"f9","c":"orange","y":841,"x":123,"x2":127},{"g":"f9","c":"orange","y":844,"x":123,"x2":129},
{"g":"f10","c":"lgray","y":832,"x":130,"x2":135},{"g":"f10","c":"lgray","y":835,"x":128,"x2":136},{"g":"f10","c":"lgray","y":838,"x":130,"x2":134},{"g":"f10","c":"lgray","y":841,"x":127,"x2":137},{"g":"f10","c":"lgray","y":844,"x":129,"x2":135},
{"g":"h1","c":"magenta","y":860,"x":63,"x2":96},{"g":"h1","c":"magenta","y":862,"x":63,"x2":105},{"g":"h1","c":"magenta","y":864,"x":63,"x2":113},{"g":"h1","c":"magenta","y":866,"x":63,"x2":120},{"g":"h1","c":"magenta","y":868,"x":63,"x2":128},{"g":"h1","c":"magenta","y":870,"x":63,"x2":136},{"g":"h1","c":"magenta","y":872,"x":63,"x2":140}
],
"ticks":[{"x":156,"x2":178,"y":118.7},{"x":156,"x2":178,"y":184.7},{"x":156,"x2":178,"y":206},{"x":156,"x2":178,"y":229},{"x":156,"x2":178,"y":247},{"x":156,"x2":178,"y":295},{"x":156,"x2":178,"y":330},{"x":156,"x2":178,"y":371},{"x":156,"x2":178,"y":412.7},{"x":156,"x2":178,"y":440.7},{"x":156,"x2":178,"y":465.7},{"x":156,"x2":178,"y":551},{"x":156,"x2":178,"y":584},{"x":156,"x2":178,"y":607},{"x":156,"x2":178,"y":643.7},{"x":156,"x2":178,"y":660},{"x":156,"x2":178,"y":728.7},{"x":156,"x2":178,"y":744},{"x":156,"x2":178,"y":759},{"x":156,"x2":178,"y":780},{"x":156,"x2":178,"y":800},{"x":156,"x2":178,"y":817},{"x":156,"x2":178,"y":831.7},{"x":156,"x2":178,"y":843.7},{"x":156,"x2":178,"y":859.7},{"x":156,"x2":178,"y":872}],
"paths":[
{"g":"dot1","x":361,"y":88.3},{"g":"dot1","x":372.7,"y":95},{"g":"dot1","x":384.3,"y":105},{"g":"dot1","x":394.3,"y":118.3},{"g":"dot1","x":402.7,"y":138.3},{"g":"dot1","x":406.7,"y":156.7},{"g":"dot1","x":408.3,"y":176.7},{"g":"dot1","x":408.7,"y":188},
{"g":"dot2","x":417.7,"y":210},{"g":"dot2","x":436,"y":206.7},{"g":"dot2","x":452.7,"y":200},{"g":"dot2","x":466,"y":188.3},{"g":"dot2","x":471,"y":170},{"g":"dot2","x":479.3,"y":153.3},{"g":"dot2","x":492.7,"y":141.7},{"g":"dot2","x":512,"y":134},
{"g":"dot3","x":407,"y":233.3},{"g":"dot3","x":411,"y":248.3},{"g":"dot3","x":419.3,"y":259.3},{"g":"dot3","x":431.7,"y":266.7},{"g":"dot3","x":442.7,"y":275},{"g":"dot3","x":451,"y":290},
{"g":"camang","x":349.7,"y":96.7},{"g":"camang","x":354.3,"y":116.7},{"g":"camang","x":362.7,"y":135},{"g":"camang","x":376,"y":143.3},{"g":"camang","x":384.3,"y":155},{"g":"camang","x":389.3,"y":173},{"g":"camang","x":393.3,"y":190},
{"g":"angbsz","x":415.3,"y":222.3},{"g":"angbsz","x":426,"y":224.3},{"g":"angbsz","x":441,"y":226.7},{"g":"angbsz","x":451,"y":233.3},{"g":"angbsz","x":464,"y":237},
{"g":"bszbot","x":492,"y":246.7},{"g":"bszbot","x":491,"y":258.3},{"g":"bszbot","x":484.3,"y":270},{"g":"bszbot","x":474.3,"y":276.7},{"g":"bszbot","x":468,"y":285},
{"g":"bszlwk","x":494.7,"y":220},{"g":"bszlwk","x":495.3,"y":206.7},{"g":"bszlwk","x":499.3,"y":193.3},{"g":"bszlwk","x":509.3,"y":181.7},{"g":"bszlwk","x":522.7,"y":175},{"g":"bszlwk","x":532.7,"y":166.7},{"g":"bszlwk","x":536,"y":156.7},
{"g":"camdrc","x":361,"y":77.3},{"g":"camdrc","x":374.3,"y":78.3},{"g":"camdrc","x":386,"y":80},{"g":"camdrc","x":399.3,"y":83.3},{"g":"camdrc","x":411,"y":86.7},{"g":"camdrc","x":424.3,"y":91.7},{"g":"camdrc","x":434.3,"y":97.3},{"g":"camdrc","x":446,"y":106},{"g":"camdrc","x":452.7,"y":115},{"g":"camdrc","x":457.7,"y":126.7},{"g":"camdrc","x":459.3,"y":136.7},{"g":"camdrc","x":457.7,"y":150},
{"g":"drcbsz","x":444.3,"y":181.7},{"g":"drcbsz","x":443.3,"y":192.7},{"g":"drcbsz","x":446.7,"y":201.7},{"g":"drcbsz","x":452.7,"y":205},{"g":"drcbsz","x":461,"y":206},{"g":"drcbsz","x":472.7,"y":202.3},{"g":"drcbsz","x":480,"y":206},{"g":"drcbsz","x":485.3,"y":213.3}
],
"heads":[
{"g":"blue","x":382,"y":185},{"g":"blue","x":393,"y":188},{"g":"blue","x":403,"y":180},{"g":"blue","x":399.5,"y":202},
{"g":"rust","x":459.3,"y":229},{"g":"rust","x":466.7,"y":237.7},{"g":"rust","x":462,"y":249},{"g":"rust","x":482.7,"y":235.7},
{"g":"amber","x":459.3,"y":280},{"g":"amber","x":467,"y":287},{"g":"amber","x":479.3,"y":284.3},{"g":"amber","x":463.3,"y":301.7},
{"g":"teal","x":527.7,"y":156},{"g":"teal","x":537.7,"y":156},{"g":"teal","x":548.3,"y":161.7},{"g":"teal","x":542,"y":138.3},
{"g":"green","x":454,"y":148.3},{"g":"green","x":457.7,"y":152.7},{"g":"green","x":462.7,"y":151.7},{"g":"green","x":456,"y":159.3},
{"g":"red","x":480,"y":215},{"g":"red","x":486,"y":216},{"g":"red","x":488.7,"y":209.3},{"g":"red","x":487.3,"y":221.7},
{"g":"black1","x":404.7,"y":187.3},{"g":"black1","x":409.3,"y":190.7},{"g":"black1","x":414,"y":187.3},{"g":"black1","x":409.3,"y":196.7},
{"g":"black2","x":515.3,"y":130},{"g":"black2","x":518,"y":134},{"g":"black2","x":515.3,"y":137.3},{"g":"black2","x":525.3,"y":134},
{"g":"black3","x":449.3,"y":297.7},{"g":"black3","x":454,"y":297.7},{"g":"black3","x":455.3,"y":292.3},{"g":"black3","x":458.7,"y":303.3}
],
"circles":[
{"n":"YRI","x":329.5,"y":69.5},{"n":"CAMb","x":347.5,"y":83},{"n":"UBSUNS","x":520,"y":115.5},{"n":"LWKb","x":574,"y":127},{"n":"DRCb","x":449,"y":168.5},{"n":"ANGb","x":405.5,"y":210},{"n":"BSZ","x":493,"y":233.5},{"n":"BOTb","x":464,"y":313.5}
],
"circlesC":[
{"n":"BRN","x":322,"y":517},{"n":"CAM","x":355.5,"y":540.5},{"n":"LWK","x":594.5,"y":561.5},{"n":"DRC","x":455,"y":614.5},{"n":"ANG","x":398,"y":660.5},{"n":"BOT","x":463,"y":766.5}
],
"names":[
{"t":"YRI","x":302,"y":66.7},{"t":"CAM","x":358.8,"y":66.7},{"t":"UBS,UNS","x":513.8,"y":96.7},{"t":"LWK","x":586.6,"y":109},{"t":"DRC","x":430.7,"y":150.7},{"t":"ANG","x":373.7,"y":218.3},{"t":"BSZ","x":518.3,"y":232.3},{"t":"BOT","x":492.3,"y":314.3},
{"t":"BRN","x":322,"y":498.5},{"t":"CAM","x":358,"y":522.7},{"t":"UBS","x":499.7,"y":535.7},{"t":"UNS","x":545,"y":535.7},{"t":"LWK","x":593.5,"y":584},{"t":"DRC","x":453,"y":595.7},{"t":"ANG","x":397,"y":642.7},{"t":"BOT","x":461,"y":746.7}
],
"nums":[
{"t":"72","x":298.3,"y":517.3},{"t":"59","x":376,"y":539.7},{"t":"57","x":480.3,"y":554.7},{"t":"53","x":503.7,"y":576.7},{"t":"70","x":561.7,"y":554.7},{"t":"50","x":538.7,"y":576.7},{"t":"28","x":616,"y":560.3},{"t":"99","x":476.7,"y":613.3},{"t":"84","x":419.7,"y":660.7},{"t":"25","x":485,"y":765.3}
],
"scale":[
{"t":"20","x":281,"y":806.7},{"t":"30","x":310.3,"y":806.7},{"t":"50","x":447,"y":806.7},{"t":"90","x":541,"y":806.7},{"t":"25","x":328.7,"y":850},{"t":"60","x":400,"y":850},{"t":"50","x":591,"y":850},{"t":"70","x":658.3,"y":850}
],
"scaleIn":[{"t":"KSHG","x":300.4,"y":828},{"t":"AA","x":367,"y":828},{"t":"RFF","x":498,"y":828},{"t":"NS","x":613.3,"y":828}],
"pops":[
{"t":"CEU","k":"black","x":161,"y":78},{"t":"JOL","k":"black","x":161,"y":153},{"t":"MAL","k":"MAL","x":161,"y":196},{"t":"SSG","k":"SSG","x":161,"y":217},{"t":"CIV","k":"CIV","x":161,"y":238},{"t":"WGR","k":"WGR","x":161,"y":271},{"t":"FNB","k":"FNB","x":161,"y":312},{"t":"BRN","k":"BRN","x":161,"y":350},{"t":"CAM","k":"CAM","x":161,"y":391},{"t":"DRC","k":"DRC","x":161,"y":420},{"t":"UBS","k":"UBS","x":161,"y":432},{"t":"UNS","k":"UNS","x":161,"y":453},{"t":"KAL","k":"black","x":161,"y":508},{"t":"SOM","k":"black","x":161,"y":567},{"t":"BSZ","k":"BSZ","x":161,"y":596},{"t":"BOT","k":"BOT","x":161,"y":628},{"t":"SOT","k":"SOT","x":161,"y":652},{"t":"ZUL","k":"black","x":161,"y":695},{"t":"XHS","k":"XHS","x":160,"y":737},{"t":"SEBantu","k":"black","x":161,"y":751},{"t":"BabongoE","k":"black","x":161,"y":769},{"t":"Bakoya","k":"black","x":161,"y":790},{"t":"Bezan","k":"black","x":161,"y":811},{"t":"Mbuti","k":"black","x":161,"y":826},{"t":"Biaka","k":"black","x":161,"y":839},{"t":"Jul’hoansi","k":"black","x":161,"y":853},{"t":"GGK","k":"black","x":161,"y":866},{"t":"Nama","k":"black","x":161,"y":880}
],
"regions":[
{"t":"European","k":"w","x":35,"y":77},{"t":"West African","k":"b","x":35,"y":211},{"t":"Central African","k":"w","x":35,"y":348},{"t":"East African","k":"w","x":35,"y":499},{"t":"South African","k":"b","x":35,"y":676},{"t":"RFF","k":"w","x":35,"y":794},{"t":"KS","k":"w","x":35,"y":858}
],
"letters":[{"t":"a","x":19,"y":23},{"t":"b","x":268,"y":22},{"t":"c","x":267,"y":475}]
},
"encoding":{"x":{"field":"x","type":"quantitative","scale":{"domain":[0,680]},"axis":null},"y":{"field":"y","type":"quantitative","scale":{"domain":[881,0]},"axis":null}},
"layer":[
{"data":{"name":"panels"},"mark":{"type":"rect","fill":"#d9d9d9"},"encoding":{"x2":{"field":"x2"},"y2":{"field":"y2"}}},
{"data":{"name":"map"},"mark":{"type":"line","strokeWidth":0},"encoding":{"detail":{"field":"g"},"order":{"value":null},"fill":{"field":"t","legend":null,"scale":{"domain":["land","white","mid","mid2","dark","south"],"range":["#e8e8e8","#f6f6f6","#dddddd","#e3e3e3","#d3d3d3","#eeeeee"]}}}},
{"data":{"name":"map"},"mark":{"type":"line","strokeWidth":0,"yOffset":448},"encoding":{"detail":{"field":"g"},"order":{"value":null},"fill":{"field":"t","legend":null,"scale":{"domain":["land","white","mid","mid2","dark","south"],"range":["#e8e8e8","#f6f6f6","#dddddd","#e3e3e3","#d3d3d3","#eeeeee"]}}}},
{"data":{"values":[{"x":13,"x2":61,"y":35,"y2":881}]},"mark":{"type":"rect","fill":{"gradient":"linear","x1":0,"y1":0,"x2":0,"y2":1,"stops":[{"offset":0,"color":"#00c45c"},{"offset":0.077,"color":"#00e098"},{"offset":0.144,"color":"#14e8d8"},{"offset":0.195,"color":"#30dcc0"},{"offset":0.274,"color":"#70b08a"},{"offset":0.307,"color":"#8aa878"},{"offset":0.36,"color":"#b08a48"},{"offset":0.408,"color":"#d07a28"},{"offset":0.46,"color":"#f57008"},{"offset":0.472,"color":"#f06000"},{"offset":0.478,"color":"#1a1a90"},{"offset":0.514,"color":"#1c1a8c"},{"offset":0.562,"color":"#5c5888"},{"offset":0.62,"color":"#b0b080"},{"offset":0.648,"color":"#f2f270"},{"offset":0.656,"color":"#f0f088"},{"offset":0.672,"color":"#e4e4e4"},{"offset":0.795,"color":"#e0e0e0"},{"offset":0.834,"color":"#aaaaaa"},{"offset":0.892,"color":"#707070"},{"offset":0.921,"color":"#6a6a6a"},{"offset":0.945,"color":"#a83aa8"},{"offset":0.97,"color":"#c020b8"},{"offset":1,"color":"#c020b8"}]}},"encoding":{"x2":{"field":"x2"},"y2":{"field":"y2"}}},
{"data":{"name":"bars"},"transform":[{"filter":"datum.y2<=330 && (datum.y<119 || datum.x2>=148 || (datum.y>=185 && datum.x<=64 && datum.x2>=148))"}],"mark":{"type":"rect"},"encoding":{"x2":{"field":"x2"},"y2":{"field":"y2"},"color":{"field":"c","type":"nominal","legend":null,"scale":{"domain":["green","cyan","orange","navy","yellow","lgray","dgray","magenta","red","blue"],"range":["#00c000","#00ffff","#ff6a00","#00008b","#ffff00","#e3e3e3","#6e6e6e","#ff00ff","#ff0000","#0000e6"]}}}},
{"data":{"name":"bars"},"transform":[{"filter":"datum.y2>330 && datum.x<=63 && datum.x2>=147 && datum.y2-datum.y>5"}],"mark":{"type":"rect"},"encoding":{"x2":{"field":"x2"},"y2":{"field":"y2"},"color":{"field":"c","type":"nominal","legend":null}}},
{"data":{"name":"st"},"mark":{"type":"area","orient":"horizontal","interpolate":"step-after"},"encoding":{"x2":{"field":"x2"},"detail":{"field":"g"},"color":{"field":"c","type":"nominal","legend":null}}},
{"data":{"name":"bars"},"mark":{"type":"rect"},"transform":[{"filter":"datum.y2-datum.y<=5 || datum.x>63 || datum.x2<147"}],"encoding":{"x2":{"field":"x2"},"y2":{"field":"y2"},"color":{"field":"c","type":"nominal","legend":null}}},
{"data":{"name":"ticks"},"mark":{"type":"rule","color":"#000000","strokeWidth":1.6},"encoding":{"x2":{"field":"x2"}}},
{"data":{"name":"pops"},"mark":{"type":"text","align":"left","baseline":"middle","fontSize":12.8},"encoding":{"text":{"field":"t"},"fill":{"field":"k","legend":null,"scale":{"domain":["black","MAL","SSG","CIV","WGR","FNB","BRN","CAM","DRC","UBS","UNS","BSZ","BOT","SOT","XHS"],"range":["#111111","#4fd8f5","#f0202e","#40e828","#f0208a","#ff8030","#808080","#30d890","#ff20f0","#2020ff","#f4f41c","#f8694e","#8a30ff","#ffa080","#e8203a"]}}}},
{"data":{"name":"regions"},"mark":{"type":"text","align":"center","baseline":"middle","fontSize":15.8,"angle":90},"encoding":{"text":{"field":"t"},"fill":{"field":"k","legend":null,"scale":{"domain":["w","b"],"range":["#ffffff","#111111"]}}}},
{"data":{"name":"letters"},"mark":{"type":"text","align":"center","baseline":"middle","fontSize":21,"fontWeight":"bold","color":"#000000","stroke":"#000000","strokeWidth":0.5},"encoding":{"text":{"field":"t"}}},
{"data":{"name":"paths"},"transform":[{"filter":"datum.g=='dot1'||datum.g=='dot2'||datum.g=='dot3'"}],"mark":{"type":"line","interpolate":"catmull-rom","color":"#000000","strokeWidth":3.4,"strokeCap":"round","strokeDash":[0,7.4]},"encoding":{"detail":{"field":"g"},"order":{"value":null}}},
{"data":{"name":"paths"},"transform":[{"filter":"datum.g=='camdrc'"}],"mark":{"type":"line","interpolate":"catmull-rom","strokeWidth":3.3,"strokeCap":"round","strokeDash":[10,13],"stroke":{"gradient":"linear","x1":0,"y1":0,"x2":1,"y2":0,"stops":[{"offset":0,"color":"#3a6bc4"},{"offset":0.45,"color":"#4c8c9c"},{"offset":0.75,"color":"#6cb03a"},{"offset":1,"color":"#6cb03a"}]}},"encoding":{"order":{"value":null}}},
{"data":{"name":"paths"},"transform":[{"filter":"datum.g=='drcbsz'"}],"mark":{"type":"line","interpolate":"catmull-rom","strokeWidth":3.3,"strokeCap":"round","strokeDash":[10,11],"stroke":{"gradient":"linear","x1":0,"y1":0,"x2":1,"y2":0,"stops":[{"offset":0,"color":"#6cb03a"},{"offset":0.5,"color":"#a0581c"},{"offset":0.75,"color":"#b81010"},{"offset":1,"color":"#b81010"}]}},"encoding":{"order":{"value":null}}},
{"data":{"name":"paths"},"transform":[{"filter":"datum.g=='camang'"}],"mark":{"type":"line","interpolate":"catmull-rom","strokeWidth":6.8,"strokeCap":"round","stroke":{"gradient":"linear","x1":0,"y1":0,"x2":0,"y2":1,"stops":[{"offset":0,"color":"#4468c8"},{"offset":1,"color":"#2ea6ee"}]}},"encoding":{"order":{"value":null}}},
{"data":{"name":"paths"},"transform":[{"filter":"datum.g=='angbsz'"}],"mark":{"type":"line","interpolate":"catmull-rom","strokeWidth":6,"strokeCap":"round","stroke":{"gradient":"linear","x1":0,"y1":0,"x2":1,"y2":0,"stops":[{"offset":0,"color":"#2ea6ee"},{"offset":0.5,"color":"#566a9c"},{"offset":1,"color":"#a52a3a"}]}},"encoding":{"order":{"value":null}}},
{"data":{"name":"paths"},"transform":[{"filter":"datum.g=='bszbot'"}],"mark":{"type":"line","interpolate":"catmull-rom","strokeWidth":7,"strokeCap":"round","stroke":{"gradient":"linear","x1":0,"y1":0,"x2":0,"y2":1,"stops":[{"offset":0,"color":"#b81010"},{"offset":0.35,"color":"#b81010"},{"offset":0.7,"color":"#e07a28"},{"offset":1,"color":"#ffc84a"}]}},"encoding":{"order":{"value":null}}},
{"data":{"name":"paths"},"transform":[{"filter":"datum.g=='bszlwk'"}],"mark":{"type":"line","interpolate":"catmull-rom","strokeWidth":7.4,"strokeCap":"round","stroke":{"gradient":"linear","x1":0,"y1":1,"x2":1,"y2":0,"stops":[{"offset":0,"color":"#b81010"},{"offset":0.48,"color":"#b81010"},{"offset":0.75,"color":"#2f9e96"},{"offset":1,"color":"#2f9e96"}]}},"encoding":{"order":{"value":null}}},
{"data":{"name":"heads"},"mark":{"type":"line","strokeWidth":0},"encoding":{"detail":{"field":"g"},"order":{"value":null},"fill":{"field":"g","legend":null,"scale":{"domain":["blue","rust","amber","teal","green","red","black1","black2","black3"],"range":["#2ea6ee","#a52a3a","#ffc84a","#2f9e96","#6cb03a","#b81010","#000000","#000000","#000000"]}}}},
{"data":{"name":"circles"},"mark":{"type":"point","filled":true,"opacity":1,"strokeWidth":0,"shape":"circle","size":240},"encoding":{"fill":{"field":"n","legend":null,"scale":{"domain":["YRI","CAMb","UBSUNS","LWKb","DRCb","ANGb","BSZ","BOTb"],"range":["#c05a1c","#4468c4","#2f9e96","#2f9e96","#6dad3a","#2ea6ee","#c43a50","#ffd45a"]}}}},
{"data":{"name":"circlesC"},"mark":{"type":"point","filled":true,"opacity":1,"strokeWidth":0,"shape":"circle","size":430},"encoding":{"fill":{"field":"n","legend":null,"scale":{"domain":["BRN","CAM","LWK","DRC","ANG","BOT"],"range":["#e8b07c","#508ad0","#ffb60a","#1f3f9a","#4472c8","#ff5fa0"]}}}},
{"data":{"values":[{"n":"UBS","x":506,"y":555}]},"mark":{"type":"point","filled":true,"opacity":1,"strokeWidth":0,"shape":"circle","size":430,"fill":{"gradient":"linear","x1":0,"y1":0,"x2":1,"y2":0,"stops":[{"offset":0,"color":"#ffb60a"},{"offset":0.46,"color":"#ffb60a"},{"offset":0.58,"color":"#5e9ed6"},{"offset":1,"color":"#5e9ed6"}]}}},
{"data":{"values":[{"n":"UNS","x":540.7,"y":555}]},"mark":{"type":"point","filled":true,"opacity":1,"strokeWidth":0,"shape":"circle","size":430,"fill":{"gradient":"linear","x1":0,"y1":0,"x2":1,"y2":0,"stops":[{"offset":0,"color":"#a5ae5f"},{"offset":0.45,"color":"#a5ae5f"},{"offset":0.62,"color":"#4472c8"},{"offset":1,"color":"#4472c8"}]}}},
{"data":{"name":"names"},"mark":{"type":"text","align":"center","baseline":"middle","fontSize":15.3,"color":"#111111"},"encoding":{"text":{"field":"t"}}},
{"data":{"name":"nums"},"mark":{"type":"text","align":"center","baseline":"middle","fontSize":12.6,"color":"#111111"},"encoding":{"text":{"field":"t"}}},
{"data":{"values":[{"x":274.3,"x2":665,"y":816,"y2":840}]},"mark":{"type":"rect","fill":{"gradient":"linear","x1":0,"y1":0,"x2":1,"y2":0,"stops":[{"offset":0,"color":"#ff30ff"},{"offset":0.064,"color":"#ff90a0"},{"offset":0.115,"color":"#ffc000"},{"offset":0.157,"color":"#ffc000"},{"offset":0.31,"color":"#f09030"},{"offset":0.37,"color":"#c09060"},{"offset":0.405,"color":"#8a9a90"},{"offset":0.457,"color":"#5ea0d8"},{"offset":0.576,"color":"#4a80c8"},{"offset":0.72,"color":"#1f3f9a"},{"offset":0.742,"color":"#303f80"},{"offset":0.764,"color":"#6a7a68"},{"offset":0.79,"color":"#a0ae60"},{"offset":0.917,"color":"#a8ac60"},{"offset":0.95,"color":"#f0ac80"},{"offset":1,"color":"#f5ae82"}]}},"encoding":{"x2":{"field":"x2"},"y2":{"field":"y2"}}},
{"data":{"name":"scale"},"mark":{"type":"text","align":"center","baseline":"middle","fontSize":15,"color":"#111111"},"encoding":{"text":{"field":"t"}}},
{"data":{"name":"scaleIn"},"mark":{"type":"text","align":"center","baseline":"middle","fontSize":15,"color":"#ffffff"},"encoding":{"text":{"field":"t"}}},
{"data":{"values":[{"t":"Number of generations ago","x":469.3,"y":870}]},"mark":{"type":"text","align":"center","baseline":"middle","fontSize":16,"color":"#111111"},"encoding":{"text":{"field":"t"}}}
],
"resolve":{"scale":{"fill":"independent"}}
}
